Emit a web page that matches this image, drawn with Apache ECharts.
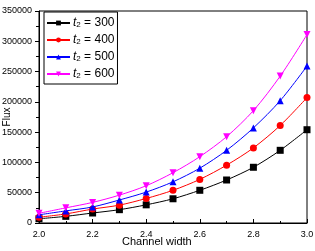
<!DOCTYPE html>
<html><head><meta charset="utf-8">
<script src="https://cdn.jsdelivr.net/npm/echarts@6/dist/echarts.min.js"></script>
<style>html,body{margin:0;padding:0;background:#fff}#c{width:315px;height:251px}</style>
</head><body><div id="c"></div>
<script>
const channelWidth = [2.0, 2.1, 2.2, 2.3, 2.4, 2.5, 2.6, 2.7, 2.8, 2.9, 3.0];
const flux300 = [7000, 11000, 16500, 22000, 30000, 40000, 54000, 71000, 92000, 120000, 154000];
const flux400 = [9500, 15000, 23000, 29500, 40500, 54000, 72000, 95500, 124000, 161000, 207000];
const flux500 = [13500, 20000, 26500, 38000, 51000, 68000, 90500, 120000, 157000, 202000, 259000];
const flux600 = [16000, 25000, 34000, 46000, 61500, 83000, 109500, 142500, 185500, 242500, 311000];
const seriesNames = ['300', '400', '500', '600'];
const seriesColors = ['#000000', '#ff0000', '#0000ff', '#ff00ff'];
const seriesSymbols = ['rect', 'circle', 'triangle', 'path://M0,0 L10,0 L5,9 Z'];
const allFlux = [flux300, flux400, flux500, flux600];

const font = 'Liberation Sans, Arial, sans-serif';
const chart = echarts.init(document.getElementById('c'), null, {renderer: 'canvas'});
const series = allFlux.map((vals, i) => ({
  name: seriesNames[i],
  type: 'line',
  smooth: 0.3,
  data: channelWidth.map((x, j) => [x, vals[j]]),
  symbol: seriesSymbols[i],
  symbolSize: 7,
  lineStyle: {color: seriesColors[i], width: 1},
  itemStyle: {color: seriesColors[i]},
  z: 2 + i
}));

chart.setOption({
  animation: false,
  grid: {left: 39, right: 8, top: 11, bottom: 28, show: true, borderColor: '#000', borderWidth: 1,
         containLabel: false, outerBoundsMode: 'none'},
  legend: {
    orient: 'vertical', left: 44, top: 12,
    data: seriesNames.map((n, i) => ({name: n, itemStyle: {color: seriesColors[i]}})),
    borderColor: '#000', borderWidth: 1, borderRadius: 0,
    padding: [4, 3, 4, 2],
    itemWidth: 23, itemHeight: 6, itemGap: 4,
    formatter: n => '{i|t}{s|2}{n| = ' + n + '}',
    textStyle: {
      fontFamily: font, fontSize: 12, color: '#000', padding: [0, 0, 0, -2],
      rich: {
        i: {fontFamily: font, fontSize: 12, fontStyle: 'italic', color: '#000', lineHeight: 12},
        s: {fontFamily: font, fontSize: 8, color: '#000', verticalAlign: 'bottom', padding: [5, 0, 0, 0], lineHeight: 12},
        n: {fontFamily: font, fontSize: 12, color: '#000', lineHeight: 12}
      }
    }
  },
  xAxis: {
    type: 'value', min: 2, max: 3, interval: 0.2,
    axisLine: {lineStyle: {color: '#000', width: 1}},
    axisTick: {inside: true, length: 4, lineStyle: {color: '#000'}},
    minorTick: {show: true, splitNumber: 2, length: 2, lineStyle: {color: '#000'}},
    splitLine: {show: false},
    axisLabel: {fontFamily: font, fontSize: 9, color: '#000', margin: 7, formatter: v => v.toFixed(1)}
  },
  yAxis: {
    type: 'value', min: 0, max: 350000, interval: 50000,
    axisLine: {show: true, lineStyle: {color: '#000', width: 1}},
    axisTick: {show: true, inside: false, length: 4, lineStyle: {color: '#000'}},
    minorTick: {show: true, splitNumber: 2, length: 3, lineStyle: {color: '#000'}},
    splitLine: {show: false},
    axisLabel: {fontFamily: font, fontSize: 9, color: '#000', margin: 7, formatter: v => String(v)}
  },
  graphic: [{
    type: 'text', left: 122, top: 236,
    style: {text: 'Channel width', fontFamily: font, fontSize: 11, fill: '#000'}
  }, {
    type: 'text', x: 7, y: 117, rotation: Math.PI / 2,
    style: {text: 'Flux', fontFamily: font, fontSize: 10, fill: '#000', align: 'center', verticalAlign: 'middle'}
  }],
  series: series
});
</script></body></html>
